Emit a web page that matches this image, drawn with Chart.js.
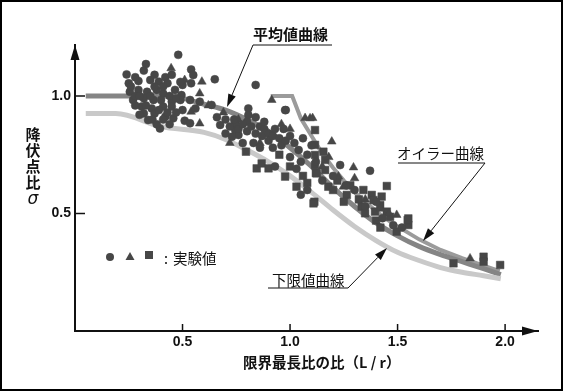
<!DOCTYPE html>
<html>
<head>
<meta charset="utf-8">
<script src="https://cdn.jsdelivr.net/npm/chart.js"></script>
<style>
  html, body { margin: 0; padding: 0; background: #fff; }
  #mycanvas { display: block; }
</style>
</head>
<body>
<canvas id="mycanvas" width="563" height="391"></canvas>
<script>
// tick labels
var xTicks = [0.5, 1.0, 1.5, 2.0];
var yTicks = [0.5, 1.0];

// curves
var meanX = [0.05, 0.2, 0.4, 0.5, 0.6, 0.7, 0.8, 0.9, 1.0, 1.1, 1.2, 1.3, 1.4, 1.5, 1.6, 1.7, 1.8, 1.9, 1.98];
var meanY = [1.0, 1.0, 1.0, 0.99, 0.965, 0.94, 0.9, 0.85, 0.78, 0.70, 0.61, 0.53, 0.46, 0.405, 0.36, 0.325, 0.295, 0.265, 0.24];

var lowerX = [0.05, 0.19, 0.4, 0.6, 0.7, 0.8, 0.9, 1.0, 1.1, 1.2, 1.3, 1.4, 1.5, 1.6, 1.7, 1.8, 1.9, 1.98];
var lowerY = [0.925, 0.925, 0.87, 0.845, 0.815, 0.77, 0.72, 0.66, 0.59, 0.515, 0.445, 0.385, 0.335, 0.3, 0.27, 0.25, 0.235, 0.222];

var eulerX = [0.91, 1.01, 1.05, 1.1, 1.15, 1.2, 1.25, 1.3, 1.35, 1.4, 1.45, 1.5, 1.6, 1.7, 1.8, 1.9, 1.975];
var eulerY = [1.0, 1.0, 0.905, 0.83, 0.755, 0.695, 0.64, 0.59, 0.55, 0.51, 0.475, 0.445, 0.39, 0.345, 0.31, 0.278, 0.255];

// test values (実験値) [x, y]
var circlePts = [
  [0.48,1.175],[0.33,1.136],[0.32,1.108],[0.24,1.092],[0.25,1.054],[0.54,1.113],[0.55,1.089],[0.65,1.071],
  [0.84,1.047],[0.295,1.064],[0.35,1.068],[0.39,1.061],[0.42,1.08],[0.43,1.054],[0.50,1.047],[0.54,1.054],
  [0.255,1.018],[0.295,1.026],[0.335,1.018],[0.38,1.026],[0.41,1.011],[0.465,1.026],[0.495,1.004],[0.27,0.983],
  [0.32,0.99],[0.365,0.983],[0.40,0.983],[0.45,0.976],[0.49,0.983],[0.535,0.983],[0.31,0.955],[0.357,0.947],
  [0.41,0.955],[0.45,0.955],[0.50,0.94],[0.56,0.947],[0.32,0.926],[0.37,0.926],[0.42,0.912],[0.457,0.905],
  [0.34,0.898],[0.395,0.862],[0.41,0.90],[0.51,0.895],[0.535,0.884],[0.675,0.877],[0.58,0.976],[0.635,0.962],
  [0.745,0.884],[0.745,0.855],[0.76,0.834],[0.73,0.827],[0.806,0.947],[0.806,0.919],[0.80,0.89],[0.977,0.94],
  [0.26,1.04],[0.28,1.0],[0.30,1.0],[0.35,1.0],[0.37,1.04],[0.44,1.0],[0.47,0.99],[0.28,0.96],[0.33,0.96],
  [0.39,0.94],[0.43,0.93],[0.47,0.93],[0.36,0.90],[0.38,0.88],[0.44,0.88],[0.30,0.92],[0.49,1.06],[0.45,1.09],
  [0.37,1.09],[0.28,1.08],[0.41,1.04],
  [0.66,0.91],[0.70,0.90],[0.72,0.87],[0.74,0.90],[0.76,0.86],[0.78,0.88],[0.80,0.85],[0.82,0.87],[0.84,0.84],
  [0.86,0.87],[0.87,0.83],[0.88,0.86],[0.90,0.84],[0.90,0.81],[0.92,0.83],[0.93,0.86],[0.95,0.82],[0.96,0.79],
  [0.98,0.81],[0.78,0.80],[0.83,0.80],[0.86,0.78],[0.92,0.78],[0.88,0.89],[0.84,0.91],[0.97,0.86],[1.00,0.83],
  [0.70,0.84],[1.02,0.80],[1.04,0.77],[1.06,0.82],[1.08,0.75],[1.10,0.79],[1.05,0.72],[1.12,0.72],[1.00,0.74],
  [1.03,0.69],[1.233,0.706],[1.372,0.682],[1.20,0.66],[1.30,0.60],[1.26,0.62],[1.15,0.64],[1.08,0.60],
  [1.05,0.58],[1.35,0.53],[1.40,0.55],[1.48,0.45],[1.52,0.44],[1.43,0.48],[0.98,0.94],[0.93,0.70]
];
var trianglePts = [
  [0.447,1.118],[0.51,1.068],[0.59,1.061],[0.58,1.011],[0.54,0.933],[0.58,0.883],[0.915,0.983],[1.093,0.905],
  [1.07,0.906],[1.105,0.906],[1.194,0.806],[1.295,0.696],[1.225,0.657],[1.248,0.614],[1.496,0.494],[1.837,0.309],
  [0.69,0.93],[0.72,0.80],[0.62,0.96],[1.15,0.70],[1.35,0.56],[1.46,0.50],[0.96,0.88],[1.00,0.86],[0.86,0.80],
  [0.76,0.90],[1.18,0.74],[1.30,0.65],[1.42,0.52]
];
var squarePts = [
  [0.845,0.692],[0.868,0.713],[0.90,0.692],[0.977,0.657],[1.03,0.614],[1.113,0.55],[0.795,0.763],[1.12,0.672],
  [1.116,0.855],[1.116,0.792],[1.116,0.749],[1.116,0.706],[1.124,0.671],[1.155,0.763],[1.163,0.728],[1.109,0.543],
  [1.163,0.685],[1.178,0.614],[1.264,0.579],[1.341,0.60],[1.38,0.579],[1.388,0.557],[1.426,0.572],[1.419,0.536],
  [1.45,0.617],[1.333,0.529],[1.349,0.501],[1.395,0.508],[1.45,0.508],[1.465,0.486],[1.55,0.479],[1.55,0.451],
  [1.496,0.423],[1.76,0.288],[1.90,0.316],[1.90,0.295],[1.977,0.281],[1.547,0.472],[1.32,0.56],[1.28,0.62],
  [1.22,0.64],[1.20,0.60],[1.25,0.55],[1.40,0.47],[1.42,0.44],[1.06,0.66],[1.08,0.63],[0.95,0.75],[1.00,0.70]
];

function toXY(xs, ys) {
  var out = [];
  for (var i = 0; i < xs.length; i++) out.push({x: xs[i], y: ys[i]});
  return out;
}
function pairs(list) {
  return list.map(function(p){ return {x: p[0], y: p[1]}; });
}

var jp = '"Noto Sans CJK JP", sans-serif';
var markColor = '#474747';

function arrow(ctx, x1, y1, x2, y2) {
  var a = Math.atan2(y2 - y1, x2 - x1);
  var len = 13, hw = 4;
  ctx.beginPath();
  ctx.moveTo(x1, y1);
  ctx.lineTo(x2 - Math.cos(a) * len, y2 - Math.sin(a) * len);
  ctx.stroke();
  ctx.beginPath();
  ctx.moveTo(x2, y2);
  ctx.lineTo(x2 - Math.cos(a) * len - Math.sin(a) * hw, y2 - Math.sin(a) * len + Math.cos(a) * hw);
  ctx.lineTo(x2 - Math.cos(a) * len + Math.sin(a) * hw, y2 - Math.sin(a) * len - Math.cos(a) * hw);
  ctx.closePath();
  ctx.fill();
}

// labels, inner ticks, arrows and frame
var deco = {
  id: 'deco',
  afterDraw: function(chart) {
    var ctx = chart.ctx;
    var xs = chart.scales.x, ys = chart.scales.y;
    var a = chart.chartArea;
    ctx.save();
    ctx.strokeStyle = '#111';
    ctx.fillStyle = '#111';

    // inner tick marks
    ctx.lineWidth = 1.5;
    xTicks.forEach(function(v){
      var px = xs.getPixelForValue(v);
      ctx.beginPath(); ctx.moveTo(px, a.bottom); ctx.lineTo(px, a.bottom - 7); ctx.stroke();
    });
    yTicks.forEach(function(v){
      var py = ys.getPixelForValue(v);
      ctx.beginPath(); ctx.moveTo(a.left, py); ctx.lineTo(a.left + 10, py); ctx.stroke();
    });

    // axis arrow heads
    ctx.beginPath();
    ctx.moveTo(a.left, a.top); ctx.lineTo(a.left - 4.5, a.top + 15); ctx.lineTo(a.left + 4.5, a.top + 15);
    ctx.closePath(); ctx.fill();
    ctx.beginPath();
    ctx.moveTo(a.right, a.bottom); ctx.lineTo(a.right - 16, a.bottom - 4.5); ctx.lineTo(a.right - 16, a.bottom + 4.5);
    ctx.closePath(); ctx.fill();

    // y title, stacked
    ctx.textAlign = 'center';
    ctx.textBaseline = 'middle';
    ctx.font = 'bold 15px ' + jp;
    var yt = ['降', '伏', '点', '比'];
    for (var i = 0; i < yt.length; i++) ctx.fillText(yt[i], 33, 134 + i * 16);
    ctx.font = 'italic 17px "DejaVu Sans"';
    ctx.fillText('σ', 33, 200);

    // x title
    ctx.textAlign = 'left';
    ctx.font = 'bold 14.5px ' + jp;
    ctx.fillText('限界最長比の比（L / r）', 243, 362);

    // curve labels
    ctx.lineWidth = 1;
    ctx.font = 'bold 15px ' + jp;
    ctx.fillText('平均値曲線', 253, 34);
    ctx.beginPath(); ctx.moveTo(332, 45); ctx.lineTo(253, 45); ctx.stroke();
    arrow(ctx, 253, 45, 227, 107);

    ctx.font = '14.5px ' + jp;
    ctx.fillText('オイラー曲線', 397, 153);
    ctx.beginPath(); ctx.moveTo(398, 163); ctx.lineTo(485, 163); ctx.stroke();
    arrow(ctx, 485, 163, 423, 241);

    ctx.fillText('下限値曲線', 272, 280);
    ctx.beginPath(); ctx.moveTo(268, 288); ctx.lineTo(348, 288); ctx.stroke();
    arrow(ctx, 348, 288, 387, 248);

    // legend
    ctx.fillStyle = markColor;
    ctx.beginPath(); ctx.arc(110, 257, 4, 0, Math.PI * 2); ctx.fill();
    ctx.beginPath(); ctx.moveTo(130, 252); ctx.lineTo(134.5, 260); ctx.lineTo(125.5, 260); ctx.closePath(); ctx.fill();
    ctx.fillRect(145, 251, 8, 8);
    ctx.fillStyle = '#111';
    ctx.fillText(':', 164, 258);
    ctx.fillText('実験値', 173, 258);

    // frame
    ctx.lineWidth = 2;
    ctx.strokeStyle = '#000';
    ctx.strokeRect(1, 1, chart.width - 2, chart.height - 2);
    ctx.restore();
  }
};

var lineBase = { showLine: true, pointRadius: 0, pointHoverRadius: 0, fill: false, order: 2 };

var ctx = document.getElementById('mycanvas');
var chart = new Chart(ctx, {
  type: 'scatter',
  data: {
    datasets: [
      Object.assign({}, lineBase, { label: '下限値曲線', data: toXY(lowerX, lowerY), borderColor: '#c9c9c9', borderWidth: 5, cubicInterpolationMode: 'monotone' }),
      Object.assign({}, lineBase, { label: '平均値曲線', data: toXY(meanX, meanY), borderColor: '#858585', borderWidth: 5, cubicInterpolationMode: 'monotone' }),
      Object.assign({}, lineBase, { label: 'オイラー曲線', data: toXY(eulerX, eulerY), borderColor: '#9b9b9b', borderWidth: 4, tension: 0 }),
      { label: '実験値 ●', data: pairs(circlePts), pointStyle: 'circle', pointRadius: 4, backgroundColor: markColor, borderColor: markColor, borderWidth: 0.5, order: 1 },
      { label: '実験値 ▲', data: pairs(trianglePts), pointStyle: 'triangle', pointRadius: 5, backgroundColor: markColor, borderColor: markColor, borderWidth: 0.5, order: 1 },
      { label: '実験値 ■', data: pairs(squarePts), pointStyle: 'rect', pointRadius: 5.4, backgroundColor: markColor, borderColor: markColor, borderWidth: 0.5, order: 1 }
    ]
  },
  options: {
    responsive: false,
    animation: false,
    devicePixelRatio: 1,
    layout: { padding: { top: 45, right: 25, left: 0, bottom: 0 } },
    plugins: { legend: { display: false }, tooltip: { enabled: false } },
    scales: {
      x: {
        type: 'linear', min: 0, max: 2.153,
        afterBuildTicks: function(s){ s.ticks = xTicks.map(function(v){ return {value: v}; }); },
        afterFit: function(s){ s.height = 60; },
        grid: { display: true, drawOnChartArea: false, drawTicks: false },
        border: { display: true, color: '#111', width: 2 },
        ticks: { padding: 3, color: '#111', maxRotation: 0, font: { family: '"Liberation Sans", Arial', weight: 'bold', size: 14 },
          callback: function(v){ return v.toFixed(1); } }
      },
      y: {
        type: 'linear', min: 0, max: 1.217,
        afterBuildTicks: function(s){ s.ticks = yTicks.map(function(v){ return {value: v}; }); },
        afterFit: function(s){ s.width = 75; },
        grid: { display: true, drawOnChartArea: false, drawTicks: false },
        border: { display: true, color: '#111', width: 2 },
        ticks: { padding: 4, color: '#111', font: { family: '"Liberation Sans", Arial', weight: 'bold', size: 14 },
          callback: function(v){ return v.toFixed(1); } }
      }
    }
  },
  plugins: [deco]
});
</script>
</body>
</html>
